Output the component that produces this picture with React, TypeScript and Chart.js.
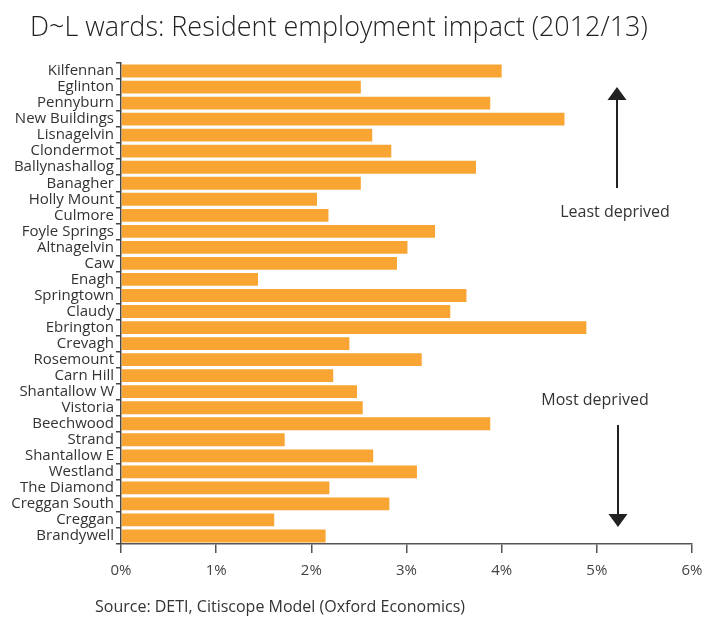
import React, { useEffect, useRef } from "react";
import { Chart, registerables } from "chart.js";

Chart.register(...registerables);

const TITLE = "D~L wards: Resident employment impact (2012/13)";
const SOURCE = "Source: DETI, Citiscope Model (Oxford Economics)";
const LABEL_TOP = "Least deprived";
const LABEL_BOTTOM = "Most deprived";

const wards = [
  "Kilfennan", "Eglinton", "Pennyburn", "New Buildings", "Lisnagelvin",
  "Clondermot", "Ballynashallog", "Banagher", "Holly Mount", "Culmore",
  "Foyle Springs", "Altnagelvin", "Caw", "Enagh", "Springtown",
  "Claudy", "Ebrington", "Crevagh", "Rosemount", "Carn Hill",
  "Shantallow W", "Vistoria", "Beechwood", "Strand", "Shantallow E",
  "Westland", "The Diamond", "Creggan South", "Creggan", "Brandywell",
];

const impactPct = [
  4.0, 2.52, 3.88, 4.66, 2.64,
  2.84, 3.73, 2.52, 2.06, 2.18,
  3.3, 3.01, 2.9, 1.44, 3.63,
  3.46, 4.89, 2.4, 3.16, 2.23,
  2.48, 2.54, 3.88, 1.72, 2.65,
  3.11, 2.19, 2.82, 1.61, 2.15,
];

const xMin = 0;
const xMax = 6;
const xStep = 1;

const FONT = '"Open Sans", "Noto Sans", sans-serif';

export default function App() {
  const ref = useRef<HTMLCanvasElement>(null);

  useEffect(() => {
    const canvas = ref.current;
    if (!canvas) return;

    const overlay = {
      id: "overlay",
      afterDraw(chart: any) {
        const ctx = chart.ctx;
        ctx.save();
        // Title, fitted to the reference width
        ctx.fillStyle = "#222";
        ctx.textBaseline = "middle";
        ctx.textAlign = "left";
        ctx.font = `300 100px ${FONT}`;
        const w = ctx.measureText(TITLE).width;
        const size = Math.min(30, (618 / w) * 100);
        ctx.font = `300 ${size.toFixed(2)}px ${FONT}`;
        ctx.fillText(TITLE, 30, 28);
        // Source
        ctx.fillStyle = "#333";
        ctx.font = `16px ${FONT}`;
        ctx.fillText(SOURCE, 95, 607);
        // Annotations
        ctx.fillStyle = "#333";
        ctx.font = `16px ${FONT}`;
        ctx.textAlign = "center";
        ctx.fillText(LABEL_TOP, 615, 212);
        ctx.fillText(LABEL_BOTTOM, 595, 400);
        // Up arrow
        ctx.strokeStyle = "#222";
        ctx.fillStyle = "#222";
        ctx.lineWidth = 2;
        ctx.beginPath();
        ctx.moveTo(617, 188);
        ctx.lineTo(617, 98);
        ctx.stroke();
        ctx.beginPath();
        ctx.moveTo(617, 87);
        ctx.lineTo(626.5, 100);
        ctx.lineTo(607.5, 100);
        ctx.closePath();
        ctx.fill();
        // Down arrow
        ctx.beginPath();
        ctx.moveTo(618, 425);
        ctx.lineTo(618, 516);
        ctx.stroke();
        ctx.beginPath();
        ctx.moveTo(618, 527);
        ctx.lineTo(627.5, 514);
        ctx.lineTo(608.5, 514);
        ctx.closePath();
        ctx.fill();
        ctx.restore();
      },
    };

    const chart = new Chart(canvas, {
      type: "bar",
      data: {
        labels: wards,
        datasets: [
          {
            data: impactPct,
            backgroundColor: "#F9A533",
            borderWidth: 0,
            barPercentage: 0.8,
            categoryPercentage: 1,
          },
        ],
      },
      options: {
        indexAxis: "y",
        animation: false,
        responsive: true,
        maintainAspectRatio: false,
        layout: { padding: { left: 0, right: 12, top: 63, bottom: 43 } },
        plugins: {
          legend: { display: false },
          tooltip: { enabled: false },
          title: { display: false },
        },
        scales: {
          x: {
            type: "linear",
            min: xMin,
            max: xMax,
            grid: {
              display: true,
              drawOnChartArea: false,
              drawTicks: true,
              tickLength: 9,
              color: "#555",
              lineWidth: 1.5,
            },
            border: { display: true, color: "#555", width: 1.5 },
            ticks: {
              stepSize: xStep,
              callback: (v: any) => `${v}%`,
              color: "#444",
              font: { family: FONT, size: 15 },
              padding: 9,
            },
            afterFit: (s: any) => {
              s.height = 36;
              s.paddingLeft = 0;
              s.paddingRight = 0;
            },
          },
          y: {
            type: "category",
            offset: true,
            grid: {
              display: true,
              drawOnChartArea: false,
              offset: true,
              tickLength: 5,
              color: "#444",
              lineWidth: 1.5,
            },
            border: { display: true, color: "#444", width: 1.5 },
            ticks: {
              autoSkip: false,
              color: "#333",
              font: { family: FONT, size: 15 },
              padding: 2,
            },
            afterFit: (s: any) => {
              s.width = 121;
            },
          },
        },
      },
      plugins: [overlay],
    });

    return () => chart.destroy();
  }, []);

  return (
    <div style={{ position: "absolute", left: 0, top: 0, width: 704, height: 623 }}>
      <canvas ref={ref} />
    </div>
  );
}
